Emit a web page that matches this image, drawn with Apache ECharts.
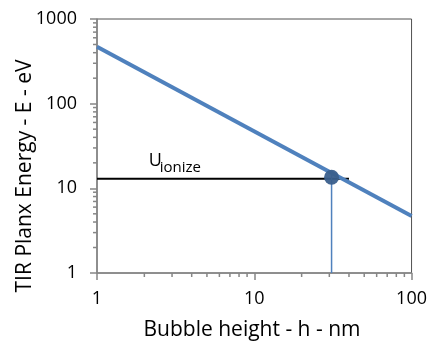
<!DOCTYPE html>
<html><head><meta charset="utf-8">
<script src="https://cdn.jsdelivr.net/npm/echarts@6/dist/echarts.min.js"></script>
<style>html,body{margin:0;padding:0;background:#fff}#c{width:430px;height:344px}</style>
</head><body><div id="c"></div>
<script>
// ---- data ----
const lineH = [1, 100];
const lineE = [470, 4.7];
const ionizeH = [1, 40];
const ionizeE = [13, 13];
const dropH = [31, 31];
const dropE = [1, 16];
const pointH = [31];
const pointE = [13.5];
const labelH = [2.13];
const labelE = [13];
const xMinor = [2, 3, 4, 5, 6, 7, 8, 9, 20, 30, 40, 50, 60, 70, 80, 90];
const yMinor = [2, 3, 4, 5, 6, 7, 8, 9, 20, 30, 40, 50, 60, 70, 80, 90, 200, 300, 400, 500, 600, 700, 800, 900];
const xTickLabels = ['1', '10', '100'];
const yTickLabels = ['1', '10', '100', '1000'];
const xName = 'Bubble height - h - nm';
const yName = 'TIR Planx Energy - E - eV';

const FONT = 'Open Sans';
const AXIS_COLOR = '#868686';
const MINOR_COLOR = '#868686';
const zip = (a, b) => a.map((v, i) => [v, b[i]]);

const chart = echarts.init(document.getElementById('c'));
const GRID = { left: 97, right: 17, top: 19, bottom: 71 };

chart.setOption({
  animation: false,
  backgroundColor: '#fff',
  grid: Object.assign({ show: true, borderColor: '#505050', borderWidth: 1 }, GRID),
  xAxis: {
    type: 'log', logBase: 10, min: 1, max: 100,
    axisLine: { show: true, lineStyle: { color: AXIS_COLOR, width: 1.5 } },
    axisTick: { show: true, length: 7, lineStyle: { color: AXIS_COLOR, width: 1.5 } },
    splitLine: { show: false },
    axisLabel: {
      margin: 17, color: '#000', fontFamily: FONT, fontSize: 18,
      formatter: v => { const s = String(Math.round(v)); return xTickLabels.includes(s) ? s : ''; }
    }
  },
  yAxis: {
    type: 'log', logBase: 10, min: 1, max: 1000,
    axisLine: { show: true, lineStyle: { color: AXIS_COLOR, width: 1.5 } },
    axisTick: { show: true, length: 7, lineStyle: { color: AXIS_COLOR, width: 1.5 } },
    splitLine: { show: false },
    axisLabel: {
      margin: 20, color: '#000', fontFamily: FONT, fontSize: 18,
      formatter: v => { const s = String(Math.round(v)); return yTickLabels.includes(s) ? s : ''; }
    }
  },
  series: [
    {
      type: 'line', name: 'ionize', data: zip(ionizeH, ionizeE), symbol: 'none',
      lineStyle: { color: '#000', width: 2 }, z: 3
    },
    {
      type: 'line', name: 'drop', data: zip(dropH, dropE), symbol: 'none',
      lineStyle: { color: '#4F81BD', width: 1.5 }, z: 3
    },
    {
      type: 'line', name: 'energy', data: zip(lineH, lineE), symbol: 'none',
      lineStyle: { color: '#4F81BD', width: 4 }, z: 4
    },
    {
      type: 'scatter', name: 'point', data: zip(pointH, pointE), symbol: 'circle', symbolSize: 15,
      itemStyle: { color: '#3A5F8C', opacity: 0.95 }, z: 5
    }
  ]
});

// minor ticks placed through the axis scales
const graphics = [];
xMinor.forEach(v => {
  const p = chart.convertToPixel({ gridIndex: 0 }, [v, 1]);
  graphics.push({ type: 'line', z: 10, shape: { x1: p[0], y1: p[1], x2: p[0], y2: p[1] + 4 }, style: { stroke: MINOR_COLOR, lineWidth: 1.5 } });
});
yMinor.forEach(v => {
  const p = chart.convertToPixel({ gridIndex: 0 }, [1, v]);
  graphics.push({ type: 'line', z: 10, shape: { x1: p[0], y1: p[1], x2: p[0] - 4, y2: p[1] }, style: { stroke: MINOR_COLOR, lineWidth: 1.5 } });
});

const lp = chart.convertToPixel({ gridIndex: 0 }, [labelH[0], labelE[0]]);
graphics.push(
  {
    type: 'text', x: lp[0], y: lp[1] - 9, z: 10,
    style: { text: 'U', font: '18px "' + FONT + '"', fill: '#000', textAlign: 'left', textVerticalAlign: 'bottom' }
  },
  {
    type: 'text', x: lp[0] + 11, y: lp[1] - 3, z: 10,
    style: { text: 'ionize', font: '15px "' + FONT + '"', fill: '#000', textAlign: 'left', textVerticalAlign: 'bottom' }
  },
  {
    type: 'text', x: 252, y: 330, z: 10,
    style: { text: xName, font: '21px "' + FONT + '"', fill: '#000', textAlign: 'center', textVerticalAlign: 'middle' }
  },
  {
    type: 'text', x: 25, y: 176, rotation: Math.PI / 2, z: 10,
    style: { text: yName, font: '21px "' + FONT + '"', fill: '#000', textAlign: 'center', textVerticalAlign: 'middle' }
  }
);
chart.setOption({ graphic: graphics });
</script></body></html>
